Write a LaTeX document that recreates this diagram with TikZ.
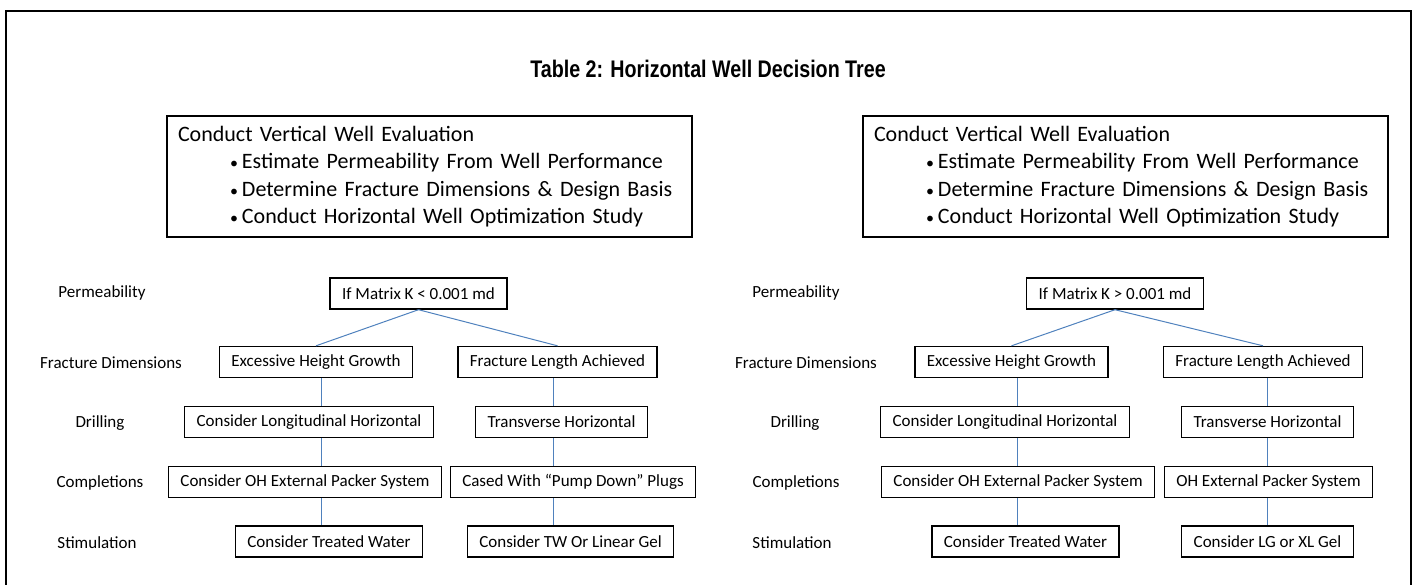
\documentclass[tikz,border=0pt]{standalone}
\usepackage{fontspec}
\setmainfont{Carlito}
\newfontfamily\titlefont[FakeStretch=0.82]{Liberation Sans Bold}
\definecolor{linkblue}{RGB}{79,129,189}
\newcommand{\evalitem}{\hspace*{26pt}{\fontsize{8}{8}\selectfont•}\hspace{2pt}}

\begin{document}
\begin{tikzpicture}[x=0.5pt,y=-0.5pt]
    % Use Carlito and a small font size
    \tikzstyle{every node}=[font=\fontsize{8.5}{10}\selectfont]
    \tikzstyle{box}=[draw, line width=0.7pt, minimum height=15.5pt, inner xsep=6pt, inner ysep=0pt]
    \tikzstyle{evalbox}=[draw, line width=0.7pt, align=left, text width=251.5pt, minimum height=60.5pt, inner xsep=5.5pt, font=\fontsize{11}{13.75}\selectfont]
    \tikzstyle{link}=[linkblue, line width=0.5pt]

    % Fix the page size
    \useasboundingbox (0,0) rectangle (1416,584);

    % Draw the frame, open at the bottom
    \draw[line width=1.2pt] (6,600) -- (6,11) -- (1411,11) -- (1411,600);

    % Title
    \node[font=\titlefont\fontsize{12}{14}\selectfont] (title) at (708,69) {Table 2: Horizontal Well Decision Tree};

    % Evaluation boxes
    \node[evalbox] (evalL) at (429.5,176.5) {Conduct Vertical Well Evaluation\\
        \evalitem Estimate Permeability From Well Performance\\
        \evalitem Determine Fracture Dimensions \& Design Basis\\
        \evalitem Conduct Horizontal Well Optimization Study};
    \node[evalbox] (evalR) at (1125.5,176.5) {Conduct Vertical Well Evaluation\\
        \evalitem Estimate Permeability From Well Performance\\
        \evalitem Determine Fracture Dimensions \& Design Basis\\
        \evalitem Conduct Horizontal Well Optimization Study};

    % Row labels on both sides
    \foreach \nm/\txt/\x/\y in {permL/Permeability/102/293, fracL/Fracture Dimensions/111/363,
        drillL/Drilling/100/423, complL/Completions/100/483, stimL/Stimulation/97/543,
        permR/Permeability/796/293, fracR/Fracture Dimensions/806/363,
        drillR/Drilling/795/423, complR/Completions/796/483, stimR/Stimulation/792/543}
        \node (\nm) at (\x,\y) {\txt};

    % Left tree
    \node[box] (kL) at (418.5,293.5) {If Matrix K < 0.001 md};
    \node[box] (heightL) at (316,362) {Excessive Height Growth};
    \node[box] (lengthL) at (557.5,362) {Fracture Length Achieved};
    \node[box] (longL) at (309,422) {Consider Longitudinal Horizontal};
    \node[box] (transL) at (561.5,422) {Transverse Horizontal};
    \node[box] (ohL) at (305,482) {Consider OH External Packer System};
    \node[box] (casedL) at (573,482) {Cased With “Pump Down” Plugs};
    \node[box] (waterL) at (329,541.5) {Consider Treated Water};
    \node[box] (gelL) at (570.5,541.5) {Consider TW Or Linear Gel};

    % Right tree
    \node[box] (kR) at (1115,293.5) {If Matrix K > 0.001 md};
    \node[box] (heightR) at (1011.5,362) {Excessive Height Growth};
    \node[box] (lengthR) at (1263,362) {Fracture Length Achieved};
    \node[box] (longR) at (1005,422) {Consider Longitudinal Horizontal};
    \node[box] (transR) at (1267.5,422) {Transverse Horizontal};
    \node[box] (ohR) at (1018,482) {Consider OH External Packer System};
    \node[box] (packR) at (1268.5,482) {OH External Packer System};
    \node[box] (waterR) at (1025.5,541.5) {Consider Treated Water};
    \node[box] (gelR) at (1267.5,541.5) {Consider LG or XL Gel};

    % Columns for the vertical links
    \coordinate (colLa) at (321,0);
    \coordinate (colLb) at (553,0);
    \coordinate (colRa) at (1017,0);
    \coordinate (colRb) at (1267,0);

    % Draw the links
    \draw[link] (kL.south) -- (heightL.north);
    \draw[link] (kL.south) -- (lengthL.north);
    \draw[link] (kR.south) -- (heightR.north);
    \draw[link] (kR.south) -- (lengthR.north);
    \draw[link] (heightL.south -| colLa) -- (longL.north -| colLa);
    \draw[link] (longL.south -| colLa) -- (ohL.north -| colLa);
    \draw[link] (ohL.south -| colLa) -- (waterL.north -| colLa);
    \draw[link] (lengthL.south -| colLb) -- (transL.north -| colLb);
    \draw[link] (transL.south -| colLb) -- (casedL.north -| colLb);
    \draw[link] (casedL.south -| colLb) -- (gelL.north -| colLb);
    \draw[link] (heightR.south -| colRa) -- (longR.north -| colRa);
    \draw[link] (longR.south -| colRa) -- (ohR.north -| colRa);
    \draw[link] (ohR.south -| colRa) -- (waterR.north -| colRa);
    \draw[link] (lengthR.south -| colRb) -- (transR.north -| colRb);
    \draw[link] (transR.south -| colRb) -- (packR.north -| colRb);
    \draw[link] (packR.south -| colRb) -- (gelR.north -| colRb);

\end{tikzpicture}
\end{document}
